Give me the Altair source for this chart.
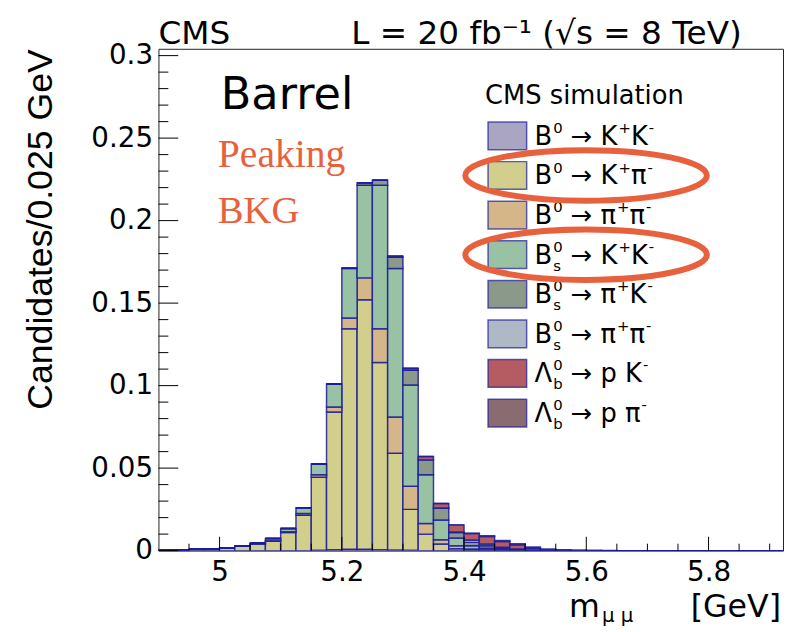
import altair as alt
import pandas as pd

# ---------------- data ----------------
BIN_W = 0.025
N_BINS = 41
bin_lo = [round(4.9 + BIN_W * i, 3) for i in range(N_BINS)]

series_names = [
    "B0->K+K-", "B0->K+pi-", "B0->pi+pi-", "Bs->K+K-",
    "Bs->pi+K-", "Bs->pi+pi-", "Lb->pK-", "Lb->ppi-",
]
series_colors = [
    "#A9A5C3", "#D2CF8D", "#D4B689", "#98C2A3",
    "#8A998A", "#AFB8C5", "#B55C62", "#8A6B70",
]

b0kk = [0, 0, 0, 0, 0, 0, 0, 0, 0, 0,
        0.0002, 0.0005, 0.0008, 0.0008, 0.0006, 0.0004, 0.0002, 0, 0, 0,
        0, 0, 0, 0, 0, 0, 0, 0, 0, 0]
b0kpi = [0.0003, 0.0004, 0.0008, 0.0010, 0.0017, 0.0028, 0.0040, 0.0056, 0.0110, 0.0215,
         0.0442, 0.0835, 0.1336, 0.1512, 0.1134, 0.0586, 0.0248, 0.0100, 0.0040, 0.0012,
         0.0005, 0.0003, 0.0001, 0, 0, 0, 0, 0, 0, 0]
b0pipi = [0, 0, 0, 0, 0, 0, 0.0001, 0.0004, 0.0005, 0.0010,
          0.0016, 0.0030, 0.0066, 0.0133, 0.0204, 0.0220, 0.0140, 0.0064, 0.0026, 0.0018,
          0.0005, 0.0003, 0.0002, 0, 0, 0, 0, 0, 0, 0]
bskk = [0, 0, 0, 0, 0, 0.0002, 0.0005, 0.0014, 0.0019, 0.0035,
        0.0065, 0.0140, 0.0300, 0.0562, 0.0871, 0.0900, 0.0614, 0.0296, 0.0120, 0.0046,
        0.0020, 0.0009, 0.0005, 0.0003, 0, 0, 0, 0, 0, 0]
bspik = [0, 0, 0, 0, 0, 0, 0, 0, 0, 0,
         0, 0, 0.0002, 0.0015, 0.0030, 0.0070, 0.0091, 0.0090, 0.0070, 0.0034,
         0.0020, 0.0015, 0.0007, 0.0005, 0.0003, 0, 0, 0, 0, 0]
bspipi = [0, 0, 0, 0, 0, 0, 0, 0, 0, 0,
          0, 0, 0, 0, 0, 0, 0, 0, 0.0002, 0.0003,
          0.0014, 0.0010, 0.0005, 0.0002, 0.0001, 0, 0, 0, 0, 0]
lbpk = [0, 0, 0, 0, 0, 0, 0, 0, 0, 0,
        0, 0, 0, 0, 0, 0.0005, 0.0010, 0.0020, 0.0028, 0.0043,
        0.0040, 0.0045, 0.0035, 0.0025, 0.0010, 0.0005, 0.0002, 0, 0, 0]
lbppi = [0, 0, 0, 0, 0, 0, 0, 0, 0, 0,
         0, 0, 0, 0, 0, 0, 0, 0, 0, 0,
         0.0002, 0.0005, 0.0007, 0.0007, 0.0008, 0.0005, 0.0004, 0.0004, 0.0002, 0.0001]

series_values = [b0kk, b0kpi, b0pipi, bskk, bspik, bspipi, lbpk, lbppi]

x_tick_labels = [5.0, 5.2, 5.4, 5.6, 5.8]
x_minor_ticks = [4.95, 5.05, 5.1, 5.15, 5.25, 5.3, 5.35, 5.45, 5.5, 5.55,
                 5.65, 5.7, 5.75, 5.85, 5.9]
y_tick_labels = [0.0, 0.05, 0.1, 0.15, 0.2, 0.25, 0.3]
y_minor_ticks = [0.01, 0.02, 0.03, 0.04, 0.06, 0.07, 0.08, 0.09, 0.11, 0.12, 0.13, 0.14,
                 0.16, 0.17, 0.18, 0.19, 0.21, 0.22, 0.23, 0.24, 0.26, 0.27, 0.28, 0.29]

legend_rich = [
    [("m", "B"), ("u", "0"), ("m", " → K"), ("u", "+"), ("m", "K"), ("u", "-")],
    [("m", "B"), ("u", "0"), ("m", " → K"), ("u", "+"), ("m", "π"), ("u", "-")],
    [("m", "B"), ("u", "0"), ("m", " → π"), ("u", "+"), ("m", "π"), ("u", "-")],
    [("m", "B"), ("ud", ("0", "s")), ("m", " → K"), ("u", "+"), ("m", "K"), ("u", "-")],
    [("m", "B"), ("ud", ("0", "s")), ("m", " → π"), ("u", "+"), ("m", "K"), ("u", "-")],
    [("m", "B"), ("ud", ("0", "s")), ("m", " → π"), ("u", "+"), ("m", "π"), ("u", "-")],
    [("m", "Λ"), ("ud", ("0", "b")), ("m", " → p K"), ("u", "-")],
    [("m", "Λ"), ("ud", ("0", "b")), ("m", " → p π"), ("u", "-")],
]
highlighted_rows = [1, 3]

# ---------------- layout / style ----------------
W, H = 631, 507
PX_PER_GEV = 617.5
PX_PER_UNIT = 1667.0
NAVY = "#1c1c9a"
ORANGE = "#E8613D"
SANS = "DejaVu Sans"

x_scale = alt.Scale(domain=[4.9, 4.9 + W / PX_PER_GEV], nice=False, zero=False)
y_scale = alt.Scale(domain=[0, H / PX_PER_UNIT], nice=False, zero=True)

X_AXIS = alt.Axis(
    values=x_tick_labels, format="~g", ticks=False, domain=False, grid=False,
    labelFont=SANS, labelFontSize=28, labelColor="black", labelPadding=8,
    labelFlush=False, title=None)
Y_AXIS = alt.Axis(
    values=y_tick_labels, format="~g", ticks=False, domain=False, grid=False,
    labelFont=SANS, labelFontSize=28, labelColor="black", labelPadding=6,
    labelFlush=False,
    title="Candidates/0.025 GeV", titleFont="Liberation Sans", titleFontSize=36,
    titleFontWeight="normal", titleColor="black", titleAngle=270,
    titleAlign="right", titleBaseline="alphabetic", titleX=-108, titleY=0)

# stacked histogram table (bottom of stack = first series)
rows = []
cum = [0.0] * N_BINS
for k, (name, vals) in enumerate(zip(series_names, series_values)):
    full = vals + [0.0] * (N_BINS - len(vals))
    for b, (lo, v) in enumerate(zip(bin_lo, full)):
        rows.append({"lo": lo, "hi": round(lo + BIN_W, 3), "y0": cum[b], "y1": cum[b] + v,
                     "series": name, "k": k})
        cum[b] += v
hist_df = pd.DataFrame(rows)

bars = alt.Chart(hist_df).mark_rect(
    stroke=NAVY, strokeWidth=1.5, strokeOpacity=0.85, clip=True
).encode(
    x=alt.X("lo:Q", scale=x_scale, axis=X_AXIS),
    x2="hi:Q",
    y=alt.Y("y1:Q", scale=y_scale, axis=Y_AXIS),
    y2="y0:Q",
    fill=alt.Color("series:N", scale=alt.Scale(domain=series_names, range=series_colors), legend=None),
    order=alt.Order("k:Q", sort="ascending"),
)

def ytick(vals, length):
    return alt.Chart(pd.DataFrame({"v": vals})).mark_rule(color="black", strokeWidth=1).encode(
        y=alt.Y("v:Q", scale=y_scale, axis=Y_AXIS), x=alt.value(0), x2=alt.value(length))

def xtick(vals, length):
    return alt.Chart(pd.DataFrame({"v": vals})).mark_rule(color="black", strokeWidth=1).encode(
        x=alt.X("v:Q", scale=x_scale, axis=X_AXIS), y=alt.value(H), y2=alt.value(H - length))

def txt(text, x, y, size, font=SANS, color="black", align="left", weight="normal"):
    return alt.Chart(pd.DataFrame({"t": [text]})).mark_text(
        align=align, baseline="alphabetic", font=font, fontSize=size, color=color,
        fontWeight=weight).encode(text="t:N", x=alt.value(x), y=alt.value(y))

# ---------------- legend (drawn by hand) ----------------
ROW0, ROW_STEP = 88, 40
leg_df = pd.DataFrame({"series": series_names, "color": series_colors,
                       "i": list(range(len(series_names)))})
leg_df["x0"] = 333
leg_df["x1"] = 372
leg_df["y0"] = ROW0 - 14 + ROW_STEP * leg_df["i"]
leg_df["y1"] = ROW0 + 14 + ROW_STEP * leg_df["i"]

leg_boxes = alt.Chart(leg_df).mark_rect(stroke=NAVY, strokeWidth=1.5, strokeOpacity=0.7).encode(
    x=alt.X("x0:Q", scale=None, axis=None), x2="x1:Q",
    y=alt.Y("y0:Q", scale=None, axis=None), y2="y1:Q",
    fill=alt.Color("color:N", scale=None),
)

GW = {"B": .686, "K": .656, "π": .602, "p": .635, "Λ": .684, " ": .318, "→": .838,
      "0": .636, "+": .838, "-": .361, "s": .521, "b": .635}
FS_M, FS_S = 26, 15

def width(s, fs):
    return sum(GW.get(c, .6) for c in s) * fs

pieces = []
for i, row in enumerate(legend_rich):
    xb = 380.0
    yb = ROW0 + 9 + ROW_STEP * i
    for kind, t in row:
        if kind == "m":
            lead = len(t) - len(t.lstrip(" "))
            xs = xb + width(" " * lead, FS_M)
            pieces.append({"x": xs, "y": yb, "t": t.strip(" "), "fs": FS_M})
            xb += width(t, FS_M)
        elif kind == "u":
            pieces.append({"x": xb + 1, "y": yb - 12, "t": t, "fs": FS_S})
            xb += width(t, FS_S) + 1
        else:
            sup, sub = t
            pieces.append({"x": xb + 1, "y": yb - 12, "t": sup, "fs": FS_S})
            pieces.append({"x": xb + 1, "y": yb + 7, "t": sub, "fs": FS_S})
            xb += max(width(sup, FS_S), width(sub, FS_S)) + 1
piece_df = pd.DataFrame(pieces)

leg_text = alt.Chart(piece_df).mark_text(align="left", baseline="alphabetic", font=SANS,
                                          color="black").encode(
    x=alt.X("x:Q", scale=None, axis=None), y=alt.Y("y:Q", scale=None, axis=None),
    text="t:N", size=alt.Size("fs:Q", scale=None, legend=None))

# red hand-drawn ellipses around the two peaking backgrounds
EW, EH = 244, 51
ell_path = "M -1 0 A 1 {r} 0 1 1 1 0 A 1 {r} 0 1 1 -1 0 Z".format(r=round(EH / EW, 4))
ell_df = pd.DataFrame({"i": highlighted_rows})
ell_df["cy"] = ROW0 + ROW_STEP * ell_df["i"]
ellipses = alt.Chart(ell_df).mark_point(
    shape=ell_path, size=EW * EW, filled=False, stroke=ORANGE, strokeWidth=6, opacity=1
).encode(x=alt.value(432), y=alt.Y("cy:Q", scale=None, axis=None))

layers = [
    bars,
    ytick(y_tick_labels, 20), ytick(y_minor_ticks, 10),
    xtick(x_tick_labels, 14), xtick(x_minor_ticks, 7),
    txt("CMS", 0, -5, 33),
    txt("L = 20 fb⁻¹ (√s = 8 TeV)", 392, -5, 33, align="center"),
    txt("Barrel", 63, 61, 45),
    txt("Peaking", 60, 119, 40, font="Liberation Serif", color=ORANGE),
    txt("BKG", 60, 176, 39, font="Liberation Serif", color=ORANGE),
    txt("CMS simulation", 330, 56, 26),
    leg_boxes, leg_text, ellipses,
    txt("m", 446, 574, 32, align="right"),
    txt("μ μ", 448, 579, 20),
    txt("[GeV]", 629, 574, 32, align="right"),
]

chart = alt.layer(*layers).properties(
    width=W, height=H, autosize="none",
    padding={"left": 152, "top": 38, "right": 2, "bottom": 78},
    background="white",
).configure_view(stroke="#222", strokeWidth=1)

chart.save("out.html", embed_options={"renderer": "svg", "actions": False})
